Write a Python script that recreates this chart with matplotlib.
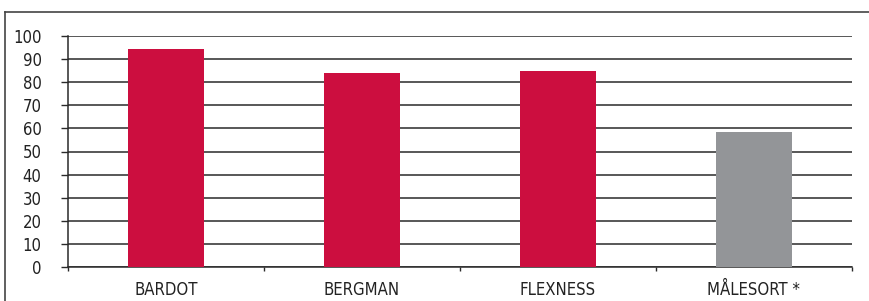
import matplotlib.pyplot as plt
from matplotlib.lines import Line2D
import numpy as np

categories = ["BARDOT", "BERGMAN", "FLEXNESS", "MÅLESORT *"]
values = [94.3, 83.9, 84.8, 58.4]
colors = ["#cc0e3f", "#cc0e3f", "#cc0e3f", "#939598"]
yticks = [0, 10, 20, 30, 40, 50, 60, 70, 80, 90, 100]

plt.rcParams['font.family'] = ['DejaVu Sans']
plt.rcParams['font.stretch'] = 'condensed'

W, H = 869, 301
fig = plt.figure(figsize=(W / 100, H / 100), dpi=100)
ax = fig.add_axes([68 / W, (H - 267.3) / H, 784 / W, (267.3 - 35.7) / H])

x = np.arange(len(categories))
ax.bar(x, values, width=0.39, color=colors, zorder=3)

ax.set_ylim(0, 100)
ax.set_xlim(-0.5, len(categories) - 0.5)
ax.set_yticks(yticks)
ax.set_yticklabels([str(v) for v in yticks], fontsize=12, color="#222222",
                   fontstretch="condensed")
ax.yaxis.grid(True, color="#2a2a2a", linewidth=1.1, zorder=1)

ax.set_xticks(np.arange(len(categories) + 1) - 0.5)
ax.set_xticklabels([])
ax.set_xticks(x, minor=True)
ax.set_xticklabels(categories, minor=True, fontsize=12, color="#222222",
                   fontstretch="condensed")
ax.tick_params(axis="x", which="minor", length=0, pad=10)
ax.tick_params(axis="x", which="major", length=3, width=1, color="#2a2a2a", direction="out")
ax.tick_params(axis="y", length=5, width=1, color="#2a2a2a", pad=14)

for s in ["top", "right"]:
    ax.spines[s].set_visible(False)
ax.spines["left"].set_color("#2a2a2a")
ax.spines["bottom"].set_color("#2a2a2a")
ax.spines["left"].set_linewidth(1.1)
ax.spines["bottom"].set_linewidth(1.1)

# outer frame (top and left edges)
fig.add_artist(Line2D([5 / W, 1.0], [1 - 12 / H, 1 - 12 / H], color="#444444", linewidth=1.2))
fig.add_artist(Line2D([5 / W, 5 / W], [0, 1 - 12 / H], color="#444444", linewidth=1.2))

fig.savefig("out.png", dpi=100)
